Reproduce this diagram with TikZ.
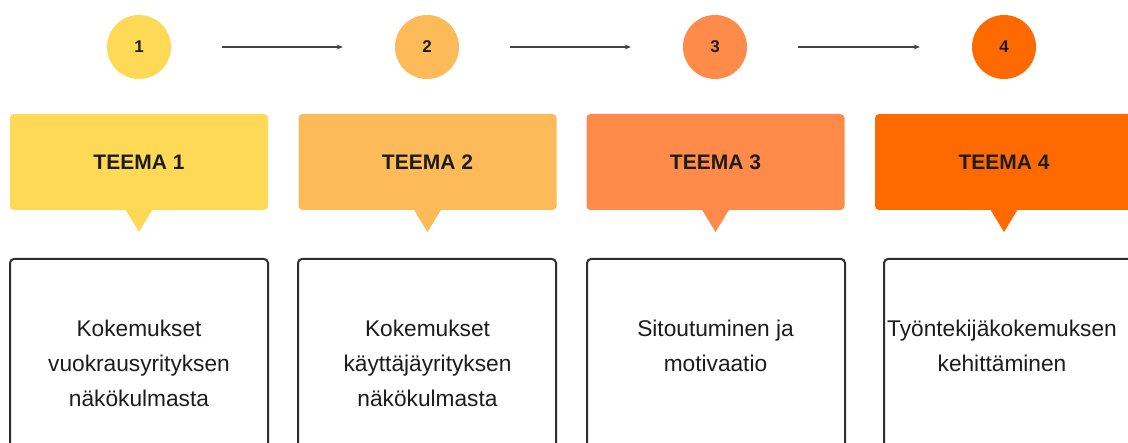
\documentclass[tikz,border=0pt]{standalone}
\usepackage{fontspec}
\setmainfont{Liberation Sans}
\usetikzlibrary{arrows.meta}
\definecolor{cA}{HTML}{FED955}
\definecolor{cB}{HTML}{FDBA58}
\definecolor{cC}{HTML}{FE8B4A}
\definecolor{cD}{HTML}{FF6A00}
\definecolor{ink}{HTML}{1C1C1C}
\definecolor{edge}{HTML}{2E2E2E}
\tikzset{
  numcirc/.style={circle, minimum size=64pt, inner sep=0pt, text=ink,
    font=\bfseries\fontsize{17}{20}\selectfont},
  teemabox/.style={rectangle, rounded corners=4pt, minimum width=258pt,
    minimum height=96pt, inner sep=0pt, text=ink,
    font=\bfseries\fontsize{21}{24}\selectfont},
  lowbox/.style={draw=edge, line width=2pt, rounded corners=4pt, fill=white},
  lowtext/.style={anchor=north, align=center, inner sep=0pt, text=ink,
    font=\fontsize{22.7}{35}\selectfont},
  flowarrow/.style={draw=edge!90, line width=1.6pt,
    -{Stealth[length=6pt,width=5pt]}, shorten <=51pt, shorten >=52pt}
}
\begin{document}
\begin{tikzpicture}[x=1pt,y=-1pt]
\useasboundingbox (0,0) rectangle (1128,443);
\clip (0,0) rectangle (1128,443);
\fill[white] (0,0) rectangle (1128,443);

% circles
\node[numcirc, fill=cA] (n1) at (139,47) {1};
\node[numcirc, fill=cB] (n2) at (427,47) {2};
\node[numcirc, fill=cC] (n3) at (715,47) {3};
\node[numcirc, fill=cD] (n4) at (1004,47) {4};

% arrows
\draw[flowarrow] (n1) -- (n2);
\draw[flowarrow] (n2) -- (n3);
\draw[flowarrow] (n3) -- (n4);

% theme boxes with pointers
\foreach \i/\x/\c in {1/139/cA, 2/427.5/cB, 3/715.5/cC, 4/1004/cD}{
  \fill[\c] (\x-14,209) -- (\x+14,209) -- (\x,232) -- cycle;
}
\node[teemabox, fill=cA] (t1) at (139,162) {TEEMA 1};
\node[teemabox, fill=cB] (t2) at (427.5,162) {TEEMA 2};
\node[teemabox, fill=cC] (t3) at (715.5,162) {TEEMA 3};
\node[teemabox, fill=cD] (t4) at (1004,162) {TEEMA 4};

% lower boxes
\path[lowbox] (10,259) rectangle (268,480);
\path[lowbox] (298,259) rectangle (556,480);
\path[lowbox] (587,259) rectangle (845,480);
\path[lowbox] (884,259) rectangle (1142,480);

% lower texts
\node[lowtext] (d1) at (139,319.5) {Kokemukset\\vuokrausyrityksen\\näkökulmasta};
\node[lowtext] (d2) at (427.5,319.5) {Kokemukset\\käyttäjäyrityksen\\näkökulmasta};
\node[lowtext] (d3) at (715.5,319.5) {Sitoutuminen ja\\motivaatio};
\node[lowtext] (d4) at (1002,319.5) {Työntekijäkokemuksen\\kehittäminen};
\end{tikzpicture}
\end{document}
